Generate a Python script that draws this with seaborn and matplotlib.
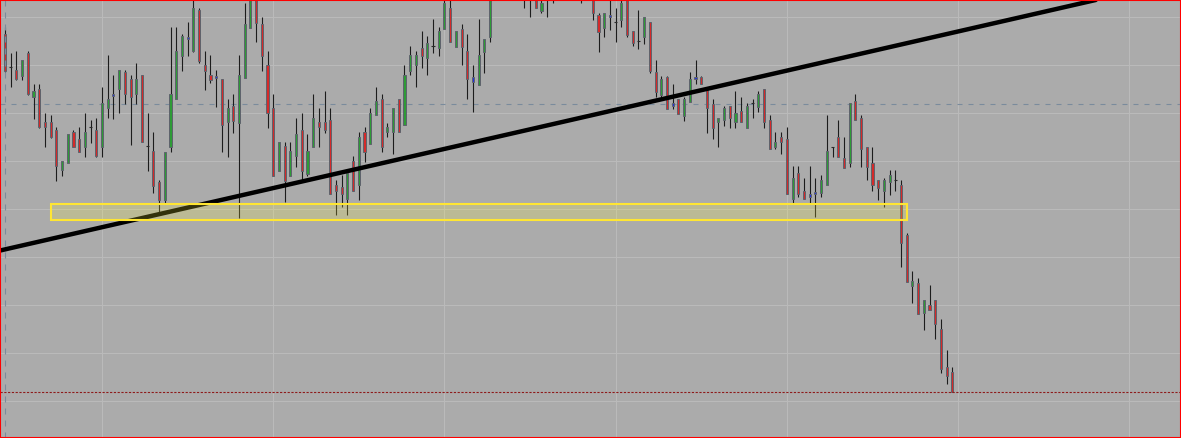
import numpy as np
import matplotlib

matplotlib.use("Agg")
import matplotlib.pyplot as plt
import matplotlib.patches as mpatches
import seaborn as sns

# chart window size (px) and bar spacing as shown on screen
W_PX, H_PX = 1181, 438
BAR_PX = 5.707
FIRST_BAR_PX = 5.0

# price scale: price at the top edge and price per screen pixel
TOP_PRICE = 1.1300
PX_PRICE = 0.00005

# OHLC, in points below the top edge (1 pt = PX_PRICE)
HIGH = [
    26.7, 52.7, 51, 60.3, 51, 84, 84, 112.7, 115, 126.7,
    161.3, 134.3, 130, 127, 113.3, 120, 118.3, 87.3, 55, 75,
    70.3, 70, 75, 63, 75.3, 113, 132, 180, 151.7, 27.3,
    27.3, 34.3, 22, -5, 8, 51, 55, 70, 79.3, 99,
    94.3, 55, 3.3, -20, -15, 17.3, 51, 94, 142.3, 141.7,
    141.7, 117.7, 113.3, 134.3, 94, 108.3, 91, 108.3, 180, 175,
    173.3, 156, 132, 126.7, 108.3, 87.3, 94.3, 123, 108.3, 99.3,
    65.3, 46, 51, 31, 36, 19, 26.7, -3, -2, 31.3,
    24.3, 34, 65.3, 19, 39.3, -5, -30, -34, -40, -38,
    -36, -30, -28, -20, -2, -16, -24, -30, -32, -28,
    -26, -22, -20, -10, 12.7, 12.7, 0, 8.3, 0, -5,
    31.3, 10, 17.3, 22.3, 60, 75.7, 75.7, 84, 99, 96.7,
    72, 60, 75.7, 87.7, 99, 118.3, 106, 106.3, 91, 96.7,
    103.3, 99, 91, 89.3, 115, 132, 132, 127.3, 166, 166,
    178.3, 166, 178.3, 175, 115.3, 146.7, 120, 137.3, 103.3, 94.3,
    115.3, 146.7, 146.7, 180.3, 177.7, 170, 170, 180, 233.3, 271,
    278.3, 300, 285, 300, 319, 350, 367.3,
]
OPEN = [
    34, 67.3, 70, 75.7, 53.3, 96.7, 89.3, 122.3, 122.3, 130.3,
    170.3, 163.3, 132.3, 139.3, 146.7, 127.3, 130.3, 146.7, 108.3, 96.3,
    89.3, 72, 79.3, 94.3, 75.3, 146.3, 151.3, 182, 200, 146.7,
    99.3, 55.7, 39.3, 51.3, 10, 65.3, 75, 77.7, 79.3, 122.3,
    106.3, 122.7, 77.7, 27.7, -5, 24.3, 65.3, 108.3, 170.7, 146.3,
    175.7, 156, 130, 174, 146.7, 122.3, 122.3, 120.3, 185.3, 187.3,
    199.3, 161, 185.3, 132.3, 144.3, 115.3, 99.3, 132.3, 132.3, 99.3,
    125.3, 70.7, 65.3, 48.3, 58.3, 46, 48.3, 29.3, 8.3, 46.7,
    29.3, 51, 82.3, 84.7, 51.7, 36.7, -4, -18, -24, -30,
    -20, -12, -18, -12, 11, -4, -10, -16, -22, -14,
    -18, -10, -6, -3, 15, 27.7, 17.3, 22.3, 20, 0,
    31.3, 41.3, 36.7, 22.3, 72, 95, 77.3, 106, 99, 115.7,
    101.7, 79.3, 77, 89.3, 103.7, 122.3, 120.3, 106.3, 122.3, 111,
    127.7, 103.3, 106.7, 89.3, 120.3, 146.7, 137.3, 139.3, 199.3, 173.3,
    190.7, 196.7, 194.3, 192.7, 185.3, 146.7, 137.3, 158.3, 163.3, 101,
    118.3, 146.7, 163.3, 180.3, 190.7, 182.3, 180, 185.3, 235, 285.7,
    283.3, 312.7, 305, 300, 329, 367.3, 372.3,
]
CLOSE = [
    70.7, 67.3, 79.3, 60.3, 94.3, 91, 127.3, 127.3, 137.3, 166.3,
    161.3, 134.3, 146.7, 151.7, 132.3, 127.3, 156.3, 103.3, 99, 94.3,
    70.3, 94.3, 96.7, 79.3, 142.3, 146.3, 185.7, 200, 151.7, 94.3,
    51, 36, 36.7, 8, 61, 70.7, 80, 75.7, 125.3, 108.3,
    120.7, 75.3, 24.3, -8, 22.7, 55.7, 113.3, 175.7, 142.3, 180.7,
    151, 134.3, 170.7, 151, 118.3, 127.3, 130.3, 194.3, 190.7, 194.3,
    173.3, 190.7, 137, 151.7, 113.3, 101.3, 146.7, 127.3, 108.3, 132.3,
    75.3, 55.3, 55.3, 55.7, 43.3, 46, 31.3, 3.3, 41.7, 31.3,
    46.7, 79.3, 77, 55.3, 39.3, -3, -18, -26, -32, -22,
    -28, -20, -8, 8.3, 3.3, -10, -18, -22, -14, -20,
    -10, -4, -12, 12.7, 31.7, 12.7, 15, 22.3, 3.3, 34.7,
    43.3, 41.3, 17.3, 71, 91.7, 79.3, 108.7, 103.3, 113.7, 99,
    79.3, 77.3, 84.3, 108.3, 127.7, 118.3, 108.3, 118.3, 113.3, 122.3,
    106, 103.3, 94.3, 122.3, 149.3, 142.3, 142.3, 194.3, 178.3, 194.3,
    199.3, 194.3, 192.3, 180.3, 151.3, 146.7, 156.7, 168.3, 103.3, 120.3,
    149.3, 166.7, 185.3, 187.7, 180, 175, 180, 242.7, 281.7, 281,
    314.3, 300, 310, 324.3, 369.3, 376, 391.7,
]
LOW = [
    71.7, 86.7, 80, 80, 95, 118.7, 127.7, 146.7, 137.7, 180.7,
    175.7, 163.3, 146.7, 151.7, 156.7, 143.3, 156.7, 156.7, 118.3, 119,
    113.3, 104.3, 144.7, 104.3, 142.3, 170.7, 192.7, 212.3, 203.3, 151.7,
    99.3, 70.7, 55.7, 51.7, 63.3, 90, 82.7, 106.7, 151.7, 156.7,
    132.7, 218.3, 78.3, 27.7, 41.7, 70.7, 127.7, 175.7, 170.7, 201.7,
    175.7, 166.7, 180, 175.7, 146.7, 146.7, 132.7, 194.3, 214.7, 206.7,
    214.7, 190.7, 200, 161.7, 144.3, 115.3, 151.7, 137, 154.3, 132.3,
    125.3, 75.3, 87.3, 67.7, 75.3, 53.3, 55.7, 29.3, 41.7, 46.7,
    65.3, 99.3, 111.7, 84.7, 72.7, 41.7, -2, -12, -15, -14,
    -10, 8.3, 17.3, 8.3, 12.7, 17.3, 3.3, -4, -6, -5,
    -4, 3.3, -2, 20, 51.7, 36.7, 30, 41.7, 27.3, 36.7,
    46, 49, 44, 72.7, 96.7, 96.7, 108.7, 109, 113.7, 120.7,
    101.7, 84, 84.3, 132.7, 139.3, 146.7, 125.7, 127.7, 127.7, 122.3,
    127.7, 118.3, 111.7, 127.7, 149.3, 149.3, 154.3, 194.3, 202.7, 197.3,
    199.3, 203.3, 216.7, 197.3, 185.3, 156.7, 156.7, 168.3, 166.7, 120.3,
    166.7, 180, 190.7, 200, 206.7, 195, 191, 266.7, 281.7, 302.7,
    314.3, 330, 310, 339, 372.7, 384.3, 391.7,
]

# small-bodied bars the terminal paints blue (1-based bar numbers)
BLUE_BARS = [20, 33, 38, 83, 107, 118, 122, 142, 143]

# drawn objects: trend line anchors (bar, pts), level line, support zone
TREND_A = (0, 249.4)
TREND_B = (160, 40.6)
LEVEL_PTS = 104.3
ZONE_BARS = (8, 158)
ZONE_PTS = (204.3, 220.3)


def to_price(pts):
    return TOP_PRICE - np.asarray(pts, dtype=float) * PX_PRICE


def draw_candles(ax):
    x = np.arange(len(OPEN))
    o, h, l, c = to_price(OPEN), to_price(HIGH), to_price(LOW), to_price(CLOSE)

    # wicks
    ax.vlines(x, l, h, color="#1c1c1c", lw=0.8, zorder=3)

    colors = np.where(c > o, "#2e9b36", "#d42a2a").astype(object)
    for b in BLUE_BARS:
        colors[b - 1] = "#2230e0"

    body = np.abs(c - o)
    has_body = body > 0
    ax.bar(
        x[has_body],
        body[has_body],
        bottom=np.minimum(o, c)[has_body],
        width=2.1 / BAR_PX,
        color=list(colors[has_body]),
        edgecolor="#5e626c",
        linewidth=0.7,
        zorder=4,
    )

    # open == close: just a short tick
    doji = ~has_body
    ax.hlines(o[doji], x[doji] - 0.27, x[doji] + 0.27, color="#2a2a2a", lw=0.8, zorder=4)


def main():
    sns.set_theme(
        style="darkgrid",
        rc={
            "axes.facecolor": "#ababab",
            "figure.facecolor": "#ababab",
            "grid.color": "#bababa",
            "grid.linewidth": 0.8,
        },
    )

    fig = plt.figure(figsize=(W_PX / 100, H_PX / 100), dpi=100)
    ax = fig.add_axes([0, 0, 1, 1])

    ax.set_xlim(-FIRST_BAR_PX / BAR_PX, (W_PX - FIRST_BAR_PX) / BAR_PX)
    ax.set_ylim(to_price(H_PX), TOP_PRICE)

    # terminal grid: every 30 bars, every 48 px of price
    ax.set_xticks(np.arange(17, 206, 30))
    ax.set_yticks(to_price(np.arange(17.3, H_PX, 48)))
    ax.tick_params(length=0, labelleft=False, labelbottom=False)
    for s in ax.spines.values():
        s.set_visible(False)

    # period separator and horizontal level
    ax.axvline(0, color="#7a8b9c", lw=0.8, ls=(0, (5.4, 5.4)), zorder=5)
    ax.axhline(to_price(LEVEL_PTS), color="#7a8b9c", lw=0.8, ls=(0, (4.5, 5.4)), zorder=2)

    draw_candles(ax)

    # last price line
    ax.axhline(to_price(CLOSE[-1]), color="#8e1a1a", lw=0.8, ls=(0, (2.0, 1.4)), zorder=5)

    # trend line
    ax.axline(
        (TREND_A[0], float(to_price(TREND_A[1]))),
        (TREND_B[0], float(to_price(TREND_B[1]))),
        color="black",
        lw=3.2,
        zorder=6,
    )

    # support zone
    zone = mpatches.Rectangle(
        (ZONE_BARS[0], float(to_price(ZONE_PTS[1]))),
        ZONE_BARS[1] - ZONE_BARS[0],
        (ZONE_PTS[1] - ZONE_PTS[0]) * PX_PRICE,
        facecolor=(1.0, 0.97, 0.25, 0.2),
        edgecolor="#ffe632",
        lw=1.5,
        zorder=7,
    )
    ax.add_patch(zone)

    # red window frame
    fig.patches.append(
        mpatches.Rectangle(
            (0, 0), 1, 1, transform=fig.transFigure, fill=False, edgecolor="#ff0000", lw=1.5
        )
    )

    fig.savefig("out.png", dpi=100)


if __name__ == "__main__":
    main()
